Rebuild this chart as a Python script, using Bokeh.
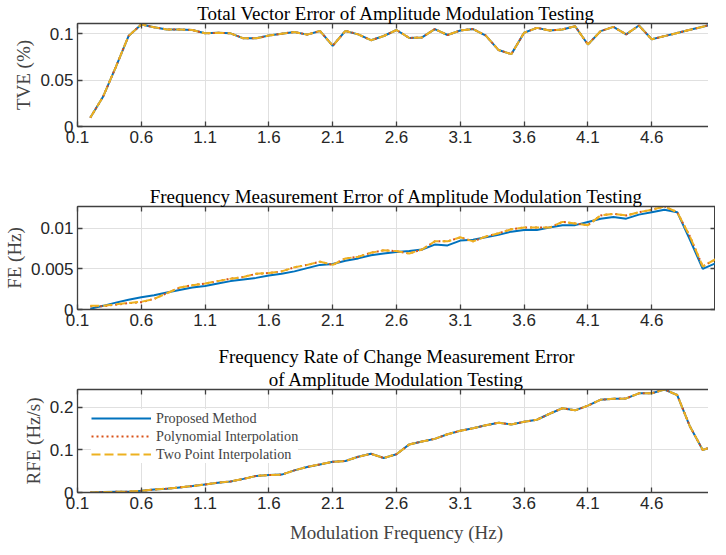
from bokeh.plotting import figure
from bokeh.layouts import column
from bokeh.models import FixedTicker, LinearAxis, Range1d, Title
from bokeh.embed import file_html
from bokeh.resources import INLINE

# ---------------- data ----------------
freq = [0.2, 0.3, 0.4, 0.5, 0.6, 0.7, 0.8, 0.9, 1.0, 1.1,
        1.2, 1.3, 1.4, 1.5, 1.6, 1.7, 1.8, 1.9, 2.0, 2.1,
        2.2, 2.3, 2.4, 2.5, 2.6, 2.7, 2.8, 2.9, 3.0, 3.1,
        3.2, 3.3, 3.4, 3.5, 3.6, 3.7, 3.8, 3.9, 4.0, 4.1,
        4.2, 4.3, 4.4, 4.5, 4.6, 4.7, 4.8, 4.9, 5.0, 5.1]

tve_proposed = [0.0095, 0.032, 0.064, 0.0975, 0.110, 0.107, 0.1046, 0.1046, 0.104, 0.1004,
                0.101, 0.1004, 0.095, 0.095, 0.098, 0.100, 0.1018, 0.099, 0.103, 0.087,
                0.103, 0.0993, 0.093, 0.0975, 0.104, 0.0954, 0.096, 0.105, 0.0986, 0.1035,
                0.105, 0.098, 0.0824, 0.078, 0.101, 0.1063, 0.1035, 0.1046, 0.108, 0.0884,
                0.1028, 0.1074, 0.0993, 0.1088, 0.094, 0.0974, 0.1008, 0.1042, 0.1076, 0.111]
tve_polynomial = [0.0095, 0.032, 0.064, 0.0975, 0.110, 0.107, 0.1046, 0.1046, 0.104, 0.1004,
                  0.101, 0.1004, 0.095, 0.095, 0.098, 0.100, 0.1018, 0.099, 0.103, 0.087,
                  0.103, 0.0993, 0.093, 0.0975, 0.104, 0.0954, 0.096, 0.105, 0.0986, 0.1035,
                  0.105, 0.098, 0.0824, 0.078, 0.101, 0.1063, 0.1035, 0.1046, 0.108, 0.0884,
                  0.1028, 0.1074, 0.0993, 0.1088, 0.094, 0.0974, 0.1008, 0.1042, 0.1076, 0.111]
tve_twopoint = [0.0095, 0.032, 0.064, 0.0975, 0.110, 0.107, 0.1046, 0.1046, 0.104, 0.1004,
                0.101, 0.1004, 0.095, 0.095, 0.098, 0.100, 0.1018, 0.099, 0.103, 0.087,
                0.103, 0.0993, 0.093, 0.0975, 0.104, 0.0954, 0.096, 0.105, 0.0986, 0.1035,
                0.105, 0.098, 0.0824, 0.078, 0.101, 0.1063, 0.1035, 0.1046, 0.108, 0.0884,
                0.1028, 0.1074, 0.0993, 0.1088, 0.094, 0.0974, 0.1008, 0.1042, 0.1076, 0.111]

fe_proposed = [0.0001, 0.00045, 0.00085, 0.0012, 0.0015, 0.00175, 0.0021, 0.0024, 0.0027, 0.0029,
               0.0032, 0.0035, 0.0037, 0.0039, 0.0042, 0.0044, 0.0047, 0.0051, 0.0055, 0.0056,
               0.0060, 0.0063, 0.0067, 0.0069, 0.0071, 0.0072, 0.0074, 0.0080, 0.0079, 0.0085,
               0.0086, 0.0089, 0.0092, 0.0096, 0.0098, 0.0098, 0.0101, 0.0104, 0.0104, 0.0108,
               0.0112, 0.0114, 0.0112, 0.0117, 0.0120, 0.0123, 0.0120, 0.0086, 0.0050, 0.0057]
fe_polynomial = [0.0004, 0.0004, 0.0006, 0.00078, 0.0009, 0.0013, 0.0020, 0.0027, 0.0030, 0.0032,
                 0.0035, 0.0038, 0.0040, 0.0044, 0.0045, 0.0047, 0.0052, 0.0055, 0.0059, 0.0055,
                 0.0063, 0.0065, 0.0070, 0.0073, 0.0072, 0.0069, 0.0074, 0.0084, 0.0084, 0.0089,
                 0.0084, 0.0090, 0.0094, 0.0099, 0.0101, 0.0101, 0.0101, 0.0108, 0.0106, 0.0104,
                 0.0116, 0.0118, 0.0116, 0.0120, 0.0123, 0.0127, 0.0120, 0.0090, 0.0053, 0.0062]
fe_twopoint = [0.00045, 0.00045, 0.00065, 0.0008, 0.00095, 0.0013, 0.0020, 0.0027, 0.0030, 0.0032,
               0.0035, 0.0038, 0.0040, 0.0044, 0.0045, 0.0047, 0.0052, 0.0055, 0.0059, 0.0055,
               0.0063, 0.0065, 0.0070, 0.0073, 0.0072, 0.0069, 0.0074, 0.0084, 0.0084, 0.0089,
               0.0084, 0.0090, 0.0094, 0.0099, 0.0101, 0.0101, 0.0101, 0.0108, 0.0106, 0.0104,
               0.0116, 0.0118, 0.0116, 0.0120, 0.0123, 0.0127, 0.0120, 0.0090, 0.0053, 0.0062]

rfe_proposed = [0.0, 0.001, 0.0015, 0.002, 0.004, 0.007, 0.009, 0.012, 0.015, 0.019,
                0.023, 0.026, 0.032, 0.039, 0.041, 0.042, 0.052, 0.060, 0.066, 0.072,
                0.074, 0.084, 0.091, 0.081, 0.090, 0.113, 0.120, 0.126, 0.137, 0.145,
                0.151, 0.158, 0.164, 0.160, 0.166, 0.171, 0.185, 0.198, 0.193, 0.204,
                0.218, 0.220, 0.221, 0.233, 0.233, 0.242, 0.229, 0.155, 0.100, 0.110]
rfe_polynomial = [0.0, 0.001, 0.0015, 0.002, 0.004, 0.007, 0.009, 0.012, 0.015, 0.019,
                  0.023, 0.026, 0.032, 0.039, 0.041, 0.042, 0.052, 0.060, 0.066, 0.072,
                  0.074, 0.084, 0.091, 0.081, 0.090, 0.113, 0.120, 0.126, 0.137, 0.145,
                  0.151, 0.158, 0.164, 0.160, 0.166, 0.171, 0.185, 0.198, 0.193, 0.204,
                  0.218, 0.220, 0.221, 0.233, 0.233, 0.242, 0.229, 0.155, 0.100, 0.110]
rfe_twopoint = [0.0, 0.001, 0.0015, 0.002, 0.004, 0.007, 0.009, 0.012, 0.015, 0.019,
                0.023, 0.026, 0.032, 0.039, 0.041, 0.042, 0.052, 0.060, 0.066, 0.072,
                0.074, 0.084, 0.091, 0.081, 0.090, 0.113, 0.120, 0.126, 0.137, 0.145,
                0.151, 0.158, 0.164, 0.160, 0.166, 0.171, 0.185, 0.198, 0.193, 0.204,
                0.218, 0.220, 0.221, 0.233, 0.233, 0.242, 0.229, 0.155, 0.100, 0.110]

x_ticks = [0.1, 0.6, 1.1, 1.6, 2.1, 2.6, 3.1, 3.6, 4.1, 4.6]
x_tick_labels = ["0.1", "0.6", "1.1", "1.6", "2.1", "2.6", "3.1", "3.6", "4.1", "4.6"]
tve_ticks = [0, 0.05, 0.1]
tve_tick_labels = ["0", "0.05", "0.1"]
fe_ticks = [0, 0.005, 0.01]
fe_tick_labels = ["0", "0.005", "0.01"]
rfe_ticks = [0, 0.1, 0.2]
rfe_tick_labels = ["0", "0.1", "0.2"]

series_names = ["Proposed Method", "Polynomial Interpolation", "Two Point Interpolation"]

# ---------------- style ----------------
BLUE = "#0072BD"
RED = "#D95319"
ORANGE = "#EDB120"
AXC = "#404040"
GRIDC = "#e0e0e0"
SERIF = "Liberation Serif"
SANS = "Liberation Sans"
FW = 638
FH = 103


def style_axis(ax, ticks, labels, show_labels=True):
    ax.ticker = FixedTicker(ticks=ticks)
    ax.axis_line_color = AXC
    ax.axis_line_width = 1.3
    ax.major_tick_line_color = AXC
    ax.major_tick_line_width = 1.3
    ax.major_tick_in = 5
    ax.major_tick_out = 0
    ax.minor_tick_line_color = None
    ax.major_label_text_font = SANS
    if show_labels:
        ax.major_label_overrides = {t: l for t, l in zip(ticks, labels)}
        ax.major_label_text_color = "#262626"
        ax.major_label_text_font_size = "17px"
        ax.major_label_standoff = 4
    else:
        ax.major_label_overrides = {t: "" for t in ticks}
        ax.major_label_text_color = None
        ax.major_label_text_font_size = "1px"
        ax.major_label_standoff = 0


def make_title(text):
    return Title(text=text, align="center", text_font=SERIF, text_font_size="19px",
                 text_font_style="normal", text_color="black", standoff=0)


def make_fig(title_lines, ylabel, yticks, ylabels, ymax, top, bottom, xlabel=None):
    p = figure(frame_width=FW, frame_height=FH,
               x_range=Range1d(0.1, 5.1), y_range=Range1d(0, ymax),
               output_backend="svg", toolbar_location=None,
               min_border_left=70, min_border_right=0,
               min_border_top=top, min_border_bottom=bottom)
    p.title.visible = False

    style_axis(p.xaxis[0], x_ticks, x_tick_labels)
    style_axis(p.yaxis[0], yticks, ylabels)
    p.yaxis[0].axis_label = ylabel
    p.yaxis[0].axis_label_text_font = SERIF
    p.yaxis[0].axis_label_text_font_size = "19px"
    p.yaxis[0].axis_label_text_font_style = "normal"
    p.yaxis[0].axis_label_standoff = 3
    if xlabel:
        p.xaxis[0].axis_label = xlabel
        p.xaxis[0].axis_label_text_font = SERIF
        p.xaxis[0].axis_label_text_font_size = "19px"
        p.xaxis[0].axis_label_text_font_style = "normal"
        p.xaxis[0].axis_label_standoff = 10

    p.xgrid.ticker = FixedTicker(ticks=x_ticks)
    p.ygrid.ticker = FixedTicker(ticks=yticks)
    p.xgrid.grid_line_color = GRIDC
    p.ygrid.grid_line_color = GRIDC

    top_ax = LinearAxis()
    style_axis(top_ax, x_ticks, x_tick_labels, show_labels=False)
    p.add_layout(top_ax, "above")
    right_ax = LinearAxis()
    style_axis(right_ax, yticks, ylabels, show_labels=False)
    p.add_layout(right_ax, "right")

    # lines listed bottom-most (closest to frame) first
    for line in reversed(title_lines):
        p.add_layout(make_title(line), "above")

    p.outline_line_color = AXC
    p.background_fill_color = "white"
    p.border_fill_color = "white"
    return p


def add_lines(p, y1, y2, y3, legend=False):
    kw1 = dict(legend_label=series_names[0]) if legend else {}
    kw2 = dict(legend_label=series_names[1]) if legend else {}
    kw3 = dict(legend_label=series_names[2]) if legend else {}
    p.line(freq, y1, line_color=BLUE, line_width=2, **kw1)
    p.line(freq, y2, line_color=RED, line_width=2, line_dash="2 3", **kw2)
    p.line(freq, y3, line_color=ORANGE, line_width=2, line_dash="9 4", **kw3)


p1 = make_fig(["Total Vector Error of Amplitude Modulation Testing"], "TVE (%)",
              tve_ticks, tve_tick_labels, 0.111, 19, 30)
add_lines(p1, tve_proposed, tve_polynomial, tve_twopoint)

p2 = make_fig(["Frequency Measurement Error of Amplitude Modulation Testing"], "FE (Hz)",
              fe_ticks, fe_tick_labels, 0.0127, 50, 30)
add_lines(p2, fe_proposed, fe_polynomial, fe_twopoint)

p3 = make_fig(["Frequency Rate of Change Measurement Error",
               "of Amplitude Modulation Testing"],
              "RFE (Hz/s)", rfe_ticks, rfe_tick_labels, 0.242, 50, 50,
              xlabel="Modulation Frequency (Hz)")
add_lines(p3, rfe_proposed, rfe_polynomial, rfe_twopoint, legend=True)

lg = p3.legend[0]
lg.location = (29, 29)
lg.border_line_color = None
lg.background_fill_color = "white"
lg.background_fill_alpha = 1.0
lg.label_text_font = SERIF
lg.label_text_font_size = "14.2px"
lg.glyph_width = 60
lg.glyph_height = 18
lg.label_height = 18
lg.spacing = 0
lg.padding = 4
lg.margin = 0
lg.label_standoff = 5

layout = column(p1, p2, p3, spacing=0)

open("out.html", "w").write(file_html(layout, INLINE))
